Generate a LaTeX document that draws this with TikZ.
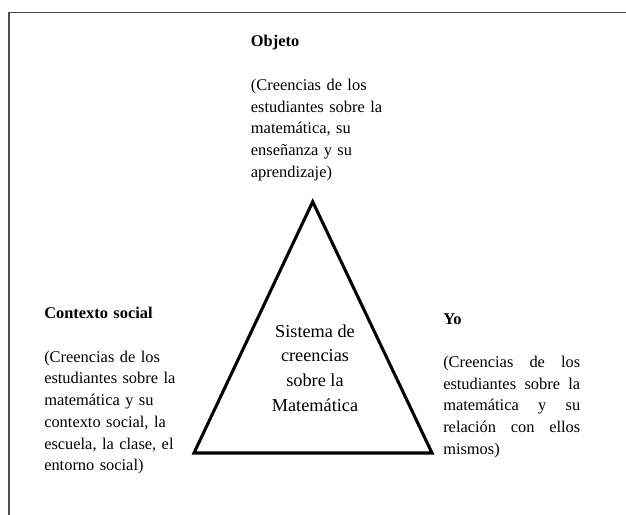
\documentclass[tikz,border=0pt]{standalone}
\usepackage{fontspec}
\setmainfont{Liberation Serif}
\usepackage{tikz}

\begin{document}
\begin{tikzpicture}[x=0.75pt,y=-0.75pt,
  bloque/.style={anchor=north west,inner sep=0pt,font=\fontsize{12.3}{16.3}\selectfont},
  lado/.style={line width=2.3pt,black}]
  \useasboundingbox (0,0) rectangle (626,515);
  % \draw[thin,gray!40] (0,0) grid[step=50] (626,515);
  \draw[line width=0.8pt,black!70] (626,12.7) -- (9,12.7) -- (9,515);
  \coordinate (cima) at (312.7,201.7);
  \coordinate (izq) at (194,453);
  \coordinate (der) at (432,453);
  \draw[lado] (cima) -- (der) -- (izq) -- cycle;
  \node[align=center,inner sep=0pt,font=\fontsize{13.7}{18.4}\selectfont] (sistema) at (315,368)
    {Sistema de\\creencias\\sobre la\\Matemática};
  \node[bloque,text width=140*0.75pt,align=left] (objeto) at (250.7,35.2)
    {\textbf{Objeto}\\[16.3pt](Creencias de los\\estudiantes sobre la\\matemática, su\\enseñanza y su\\aprendizaje)};
  \node[bloque,text width=140*0.75pt,align=left] (contexto) at (44,307)
    {\textbf{Contexto social}\\[16.3pt](Creencias de los\\estudiantes sobre la\\matemática y su\\contexto social, la\\escuela, la clase, el\\entorno social)};
  \node[bloque,text width=137*0.75pt,align=justify] (yo) at (443,313)
    {\textbf{Yo}\\[16.3pt](Creencias de los\linebreak estudiantes sobre la\linebreak matemática y su\linebreak relación con ellos\linebreak mismos)};
\end{tikzpicture}
\end{document}
